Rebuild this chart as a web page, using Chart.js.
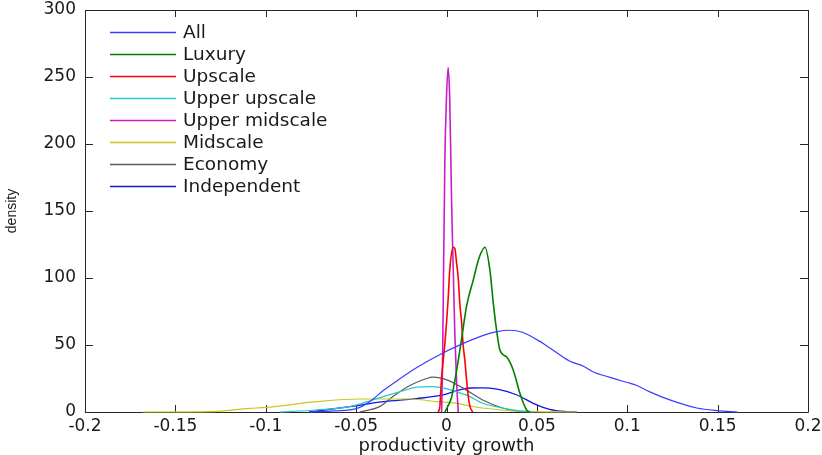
<!DOCTYPE html>
<html>
<head>
<meta charset="utf-8">
<script src="https://cdn.jsdelivr.net/npm/chart.js@4.4.1/dist/chart.umd.min.js"></script>
<style>
  body { margin: 0; background: #fff; }
  #box { width: 822px; height: 455px; }
</style>
</head>
<body>
<div id="box"><canvas id="myChart" width="822" height="455"></canvas></div>
<script>
const series_names = ["All", "Luxury", "Upscale", "Upper upscale", "Upper midscale", "Midscale", "Economy", "Independent"];

const all_x = [-0.076, -0.062, -0.05, -0.0425, -0.035, -0.026, -0.0166, -0.002, 0.009, 0.02, 0.028, 0.035, 0.042, 0.05, 0.057, 0.068, 0.076, 0.081, 0.09, 0.1, 0.105, 0.1125, 0.1235, 0.1385, 0.15, 0.161];
const all_y = [0, 0.8, 2.5, 7.7, 16, 24.6, 33, 44, 51, 57, 60, 61, 59.5, 54, 48, 38, 34, 30, 26, 22, 20, 15, 9, 3, 1, 0];

const luxury_x = [-0.0009, 0.0028, 0.0056, 0.0083, 0.0111, 0.0149, 0.018, 0.0213, 0.024, 0.0259, 0.0277, 0.0296, 0.0333, 0.037, 0.0406, 0.0443, 0.046];
const luxury_y = [0, 11, 31, 54, 79, 99, 115, 123, 106, 81, 61, 46, 41, 31, 14, 1.5, 0];

const upscale_x = [-0.0046, -0.0037, -0.0027, -0.0009, 0.0009, 0.0018, 0.0037, 0.0046, 0.0056, 0.0065, 0.0074, 0.0083, 0.0092, 0.0102, 0.0111, 0.012, 0.013, 0.0145];
const upscale_y = [0, 4, 26, 51, 84, 106, 123, 122, 111, 100, 80, 68, 50, 38, 24, 12, 4, 0];

const upperUpscale_x = [-0.092, -0.072, -0.0535, -0.035, -0.026, -0.0165, -0.009, -0.002, 0.0057, 0.013, 0.02, 0.031, 0.042, 0.048];
const upperUpscale_y = [0, 1.5, 4, 11.5, 15, 18.5, 19, 18, 15, 11.5, 6.5, 3, 0.7, 0];

const upperMidscale_x = [-0.0027, -0.0022, -0.0018, -0.0009, 0.0, 0.0009, 0.0018, 0.0028, 0.0037, 0.0046, 0.0056, 0.0065];
const upperMidscale_y = [0, 34, 84, 188, 235, 257, 233, 158, 108, 59, 22, 0];

const midscale_x = [-0.168, -0.131, -0.109, -0.1, -0.072, -0.048, -0.039, -0.02, -0.0055, 0.0057, 0.013, 0.02, 0.039, 0.072];
const midscale_y = [0, 0.3, 2.7, 3.4, 7.7, 9.7, 9.7, 9.7, 7.7, 6.5, 4.5, 3, 0.7, 0];

const economy_x = [-0.048, -0.037, -0.0297, -0.02, -0.011, -0.008, -0.0055, 0.0002, 0.009, 0.02, 0.031, 0.039, 0.046];
const economy_y = [0, 4, 11.5, 20, 25, 26, 25.8, 24, 18, 9, 3, 0.7, 0];

const independent_x = [-0.076, -0.0535, -0.035, -0.0165, -0.002, 0.006, 0.013, 0.02, 0.028, 0.039, 0.048, 0.057, 0.066, 0.072];
const independent_y = [0, 4, 7.7, 10, 12.7, 16, 17.9, 18, 17, 12.7, 6.5, 2, 0.3, 0];

const x_ticks = [-0.2, -0.15, -0.1, -0.05, 0, 0.05, 0.1, 0.15, 0.2];
const y_ticks = [0, 50, 100, 150, 200, 250, 300];

function toPoints(xs, ys) {
  return xs.map((x, i) => ({ x: x, y: ys[i] }));
}

const colours = ["rgb(60,60,255)", "rgb(0,128,0)", "rgb(255,0,0)", "rgb(40,200,200)", "rgb(200,30,200)", "rgb(200,200,30)", "rgb(90,90,90)", "rgb(20,20,230)"];
const widths = [1.2, 1.6, 1.6, 1.2, 1.6, 1.2, 1.2, 1.3];
const points = [
  toPoints(all_x, all_y),
  toPoints(luxury_x, luxury_y),
  toPoints(upscale_x, upscale_y),
  toPoints(upperUpscale_x, upperUpscale_y),
  toPoints(upperMidscale_x, upperMidscale_y),
  toPoints(midscale_x, midscale_y),
  toPoints(economy_x, economy_y),
  toPoints(independent_x, independent_y),
];

const datasets = series_names.map((name, i) => ({
  label: name,
  data: points[i],
  borderColor: colours[i],
  backgroundColor: colours[i],
  borderWidth: widths[i],
  pointRadius: 0,
  fill: false,
  clip: false,
  cubicInterpolationMode: "monotone",
}));

// matlab style box, inward ticks and legend inside the axes
const matlabBox = {
  id: "matlabBox",
  beforeDatasetsDraw(chart) {
    const { ctx, chartArea: a } = chart;
    const xs = chart.scales.x, ys = chart.scales.y;
    ctx.save();
    ctx.strokeStyle = "#262626";
    ctx.lineWidth = 1;
    ctx.beginPath();
    ctx.rect(Math.round(a.left) + 0.5, Math.round(a.top) + 0.5, Math.round(a.right - a.left), Math.round(a.bottom - a.top));
    x_ticks.forEach((v) => {
      const px = Math.round(xs.getPixelForValue(v)) + 0.5;
      ctx.moveTo(px, a.bottom);
      ctx.lineTo(px, a.bottom - 7);
      ctx.moveTo(px, a.top);
      ctx.lineTo(px, a.top + 7);
    });
    y_ticks.forEach((v) => {
      const py = Math.round(ys.getPixelForValue(v)) + 0.5;
      ctx.moveTo(a.left, py);
      ctx.lineTo(a.left + 8, py);
      ctx.moveTo(a.right, py);
      ctx.lineTo(a.right - 8, py);
    });
    ctx.stroke();
    ctx.restore();
  },
  afterDraw(chart) {
    const ctx = chart.ctx;
    ctx.save();
    ctx.font = "18.5px 'DejaVu Sans'";
    ctx.textBaseline = "middle";
    chart.data.datasets.forEach((ds, i) => {
      const y = 32.5 + i * 22;
      ctx.strokeStyle = ds.borderColor;
      ctx.lineWidth = 1.3;
      ctx.beginPath();
      ctx.moveTo(110, y);
      ctx.lineTo(176, y);
      ctx.stroke();
      ctx.fillStyle = "#1a1a1a";
      ctx.fillText(ds.label, 183, y + 1);
    });
    ctx.restore();
  },
};

const config = {
  type: "line",
  data: { datasets: datasets },
  options: {
    responsive: false,
    animation: false,
    layout: { padding: { top: 10, right: 14, left: 0, bottom: 0 } },
    plugins: {
      legend: { display: false },
      tooltip: { enabled: false },
    },
    scales: {
      x: {
        type: "linear",
        min: -0.2,
        max: 0.2,
        afterFit: (s) => { s.height = 43; s.paddingLeft = 0; s.paddingRight = 0; },
        afterBuildTicks: (s) => { s.ticks = x_ticks.map((v) => ({ value: v })); },
        grid: { display: false, drawTicks: false },
        border: { display: false },
        ticks: {
          padding: 4,
          color: "#1a1a1a",
          font: { family: "DejaVu Sans", size: 17 },
          callback: (v) => String(Math.round(v * 100) / 100),
        },
        title: {
          display: true,
          text: "productivity growth",
          color: "#1a1a1a",
          font: { family: "DejaVu Sans", size: 18, lineHeight: 1 },
          padding: { top: 0, bottom: 0 },
        },
      },
      y: {
        type: "linear",
        min: 0,
        max: 300,
        afterFit: (s) => { s.width = 85; s.paddingTop = 0; s.paddingBottom = 0; },
        afterBuildTicks: (s) => { s.ticks = y_ticks.map((v) => ({ value: v })); },
        grid: { display: false, drawTicks: false },
        border: { display: false },
        ticks: {
          padding: 9,
          color: "#1a1a1a",
          font: { family: "DejaVu Sans", size: 17 },
        },
        title: {
          display: true,
          text: "density",
          color: "#1a1a1a",
          font: { family: "Liberation Sans", size: 14, lineHeight: 1.2 },
          padding: { top: 4, bottom: 0 },
        },
      },
    },
  },
  plugins: [matlabBox],
};

const myChart = new Chart(document.getElementById("myChart"), config);
</script>
</body>
</html>
